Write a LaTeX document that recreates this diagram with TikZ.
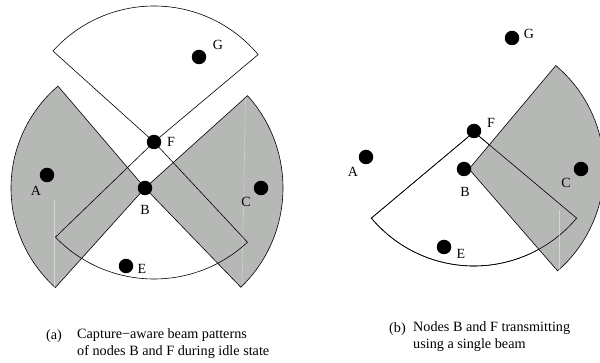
\documentclass[tikz,border=0pt]{standalone}
\usepackage{fontspec}
\setmainfont{Liberation Serif}
\begin{document}
\begin{tikzpicture}[x=1pt,y=1pt,
  beamline/.style={line width=0.6pt,line join=miter},
  beamw/.style={beamline,draw=black,fill=white},
  beamg/.style={beamline,draw=black,fill=beamgray},
  seam/.style={draw=white,line width=0.4pt,opacity=0.45},
  dot/.style={circle,fill=black,inner sep=0pt,minimum size=14.5pt},
  lbl/.style={inner sep=0pt,font=\fontsize{14}{17}\selectfont},
  captext/.style={inner sep=0pt,font=\fontsize{14.2}{17.5}\selectfont,align=left}]
\definecolor{beamgray}{RGB}{181,184,181}
\useasboundingbox (0,0) rectangle (600,-363);
\begin{scope}
\clip (0,0) rectangle (600,-363);
% ---------- panel (a) ----------
\coordinate (aF) at (154,-142);
\coordinate (aB) at (145,-188);
\path[beamw] (aF) -- ++(40:136pt) arc[start angle=40,end angle=138,radius=136pt] -- cycle;
\path[beamg] (aB) -- ++(130.5:134pt) arc[start angle=130.5,end angle=228,radius=134pt] -- cycle;
\path[beamg] (aB) -- ++(-46:138pt) arc[start angle=-46,end angle=42,radius=138pt] -- cycle;
\path[beamline,draw=black] (aF) -- ++(224:137pt) arc[start angle=224,end angle=313,radius=137pt] -- cycle;
\coordinate (aLs) at (54.5,-200);
\coordinate (aLe) at (54.5,-287);
\coordinate (aRs) at (245.5,-96);
\coordinate (aRe) at (242,-287);
\draw[seam] (aLs) -- (aLe);
\draw[seam] (aRs) -- (aRe);
\node[dot] (A1) at (47,-175) {};
\node[dot] (B1) at (aB) {};
\node[dot] (C1) at (261,-188) {};
\node[dot] (E1) at (126,-266) {};
\node[dot] (F1) at (aF) {};
\node[dot] (G1) at (199,-57) {};
\node[lbl] (lA1) at (36,-191) {A};
\node[lbl] (lB1) at (145,-210) {B};
\node[lbl] (lC1) at (246,-202) {C};
\node[lbl] (lE1) at (142,-269) {E};
\node[lbl] (lF1) at (171,-142) {F};
\node[lbl] (lG1) at (218,-45) {G};
% ---------- panel (b) ----------
\coordinate (bF) at (474,-132);
\coordinate (bB) at (469,-169);
\path[beamw] (bF) -- ++(220:134pt) arc[start angle=220,end angle=320,radius=134pt] -- cycle;
\path[beamg] (bB) -- ++(-49:135pt) arc[start angle=-49,end angle=50,radius=135pt] -- cycle;
\path[beamline,draw=black] (bF) -- ++(220:134pt) arc[start angle=220,end angle=320,radius=134pt] -- cycle;
\coordinate (bRs) at (559,-210);
\coordinate (bRe) at (559,-270);
\draw[seam] (bRs) -- (bRe);
\node[dot] (A2) at (366,-157) {};
\node[dot] (B2) at (464,-169) {};
\node[dot] (C2) at (581,-169) {};
\node[dot] (E2) at (444,-247) {};
\node[dot] (F2) at (474,-131) {};
\node[dot] (G2) at (512,-38) {};
\node[lbl] (lA2) at (353,-172) {A};
\node[lbl] (lB2) at (465,-192) {B};
\node[lbl] (lC2) at (566,-183) {C};
\node[lbl] (lE2) at (461,-254) {E};
\node[lbl] (lF2) at (491,-123) {F};
\node[lbl] (lG2) at (529,-34) {G};
\end{scope}
% ---------- captions ----------
\node[captext,anchor=base west] (capa) at (46,-340) {(a)};
\node[captext,anchor=north west] (capat) at (77,-328) {Capture−aware beam patterns\\of nodes B and F during idle state};
\node[captext,anchor=base west] (capb) at (389,-333) {(b)};
\node[captext,anchor=north west] (capbt) at (413,-321) {Nodes B and F transmitting\\using a single beam};
\end{tikzpicture}
\end{document}
